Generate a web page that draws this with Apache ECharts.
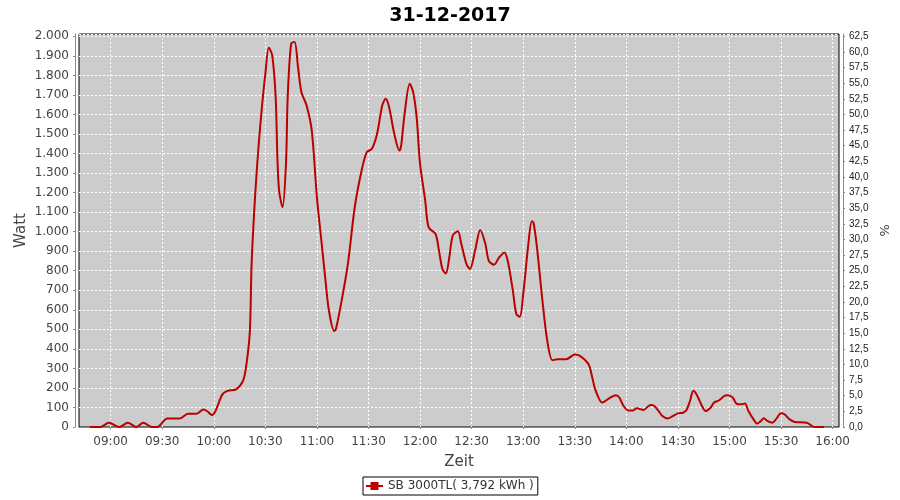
<!DOCTYPE html>
<html><head><meta charset="utf-8">
<script src="https://cdn.jsdelivr.net/npm/echarts@6/dist/echarts.min.js"></script>
<style>html,body{margin:0;padding:0;background:#fff}#c{width:900px;height:500px}</style>
</head><body><div id="c"></div>
<script>
const chartTitle = '31-12-2017';
const seriesName = 'SB 3000TL( 3,792 kWh )';
const times = ['08:48','08:54','08:59','09:05','09:10','09:15','09:19','09:24','09:27','09:33','09:40','09:45','09:50','09:54','09:56','09:59','10:01','10:05','10:08','10:13','10:17','10:19','10:21','10:22','10:24','10:26','10:28','10:30','10:32','10:34','10:36','10:37','10:38','10:40','10:42','10:43','10:45','10:47','10:49','10:51','10:54','10:57','11:00','11:03','11:05','11:07','11:10','11:11','11:14','11:18','11:22','11:26','11:29','11:32','11:35','11:38','11:40','11:42','11:45','11:48','11:49','11:51','11:54','11:56','11:58','12:00','12:03','12:05','12:09','12:11','12:13','12:15','12:17','12:19','12:22','12:24','12:27','12:29','12:32','12:35','12:38','12:40','12:43','12:46','12:49','12:51','12:54','12:56','12:58','13:00','13:03','13:05','13:06','13:08','13:11','13:14','13:17','13:20','13:25','13:30','13:33','13:38','13:40','13:42','13:46','13:50','13:54','13:56','13:58','14:01','14:04','14:06','14:10','14:14','14:16','14:19','14:21','14:24','14:27','14:30','14:33','14:35','14:37','14:39','14:41','14:44','14:46','14:49','14:51','14:54','14:57','14:59','15:02','15:04','15:07','15:09','15:11','15:14','15:16','15:18','15:20','15:22','15:25','15:27','15:30','15:32','15:35','15:38','15:45','15:48','15:50','15:55'];
const watts = [0,0,22,0,22,0,22,0,0,43,43,68,68,90,82,61,82,167,185,193,236,321,492,834,1176,1432,1637,1808,1942,1903,1689,1381,1210,1125,1347,1689,1963,1971,1843,1714,1646,1518,1176,920,749,595,492,500,629,834,1125,1313,1407,1424,1501,1646,1680,1637,1501,1415,1440,1603,1757,1714,1586,1347,1159,1022,988,903,809,786,868,979,1002,937,834,809,903,1009,937,851,831,868,894,851,697,578,564,680,937,1053,1046,920,663,441,342,347,347,371,364,321,260,190,125,147,163,150,113,85,85,96,87,113,110,79,56,43,56,70,73,87,133,185,164,108,82,99,125,137,159,162,150,120,116,120,82,39,17,28,45,31,22,39,70,65,39,26,22,5,0,0];
const xTickLabels = ['09:00','09:30','10:00','10:30','11:00','11:30','12:00','12:30','13:00','13:30','14:00','14:30','15:00','15:30','16:00'];
const xRange = ['08:41.6','16:03.7'];
const wattMax = 2012;
const wattStep = 100;
const pctPerWatt = 100 / 3200;
const pctStep = 2.5;

function toMin(s) {
  const p = s.split(':');
  return parseInt(p[0], 10) * 60 + parseFloat(p[1]);
}
function minLabel(v) {
  const h = Math.floor(v / 60), m = Math.round(v - h * 60);
  return String(h).padStart(2, '0') + ':' + String(m).padStart(2, '0');
}
function wattLabel(v) {
  if (v >= 1000) return Math.floor(v / 1000) + '.' + String(v % 1000).padStart(3, '0');
  return String(v);
}
const data = times.map((t, i) => [toMin(t), watts[i]]);
const xTicks = xTickLabels.map(toMin);
const fontFam = 'DejaVu Sans';

const chart = echarts.init(document.getElementById('c'), null, { renderer: 'canvas' });
chart.setOption({
  animation: false,
  backgroundColor: '#ffffff',
  title: {
    text: chartTitle, left: 'center', top: 2,
    textStyle: { fontFamily: fontFam, fontWeight: 'bold', fontSize: 19, color: '#000' }
  },
  legend: {
    left: 363, top: 477, padding: [3, 4, 3, 2],
    borderColor: '#000', borderWidth: 1, borderRadius: 0,
    itemWidth: 17, itemHeight: 10,
    textStyle: { fontFamily: fontFam, fontSize: 12, color: '#333' },
    data: [seriesName]
  },
  grid: {
    left: 79, right: 61, top: 34, bottom: 73,
    show: true, backgroundColor: '#CCCCCC', borderColor: '#000', borderWidth: 1
  },
  xAxis: {
    type: 'value', min: toMin(xRange[0]), max: toMin(xRange[1]),
    offset: 4,
    name: 'Zeit', nameLocation: 'middle', nameGap: 24, nameMoveOverlap: false,
    nameTextStyle: { fontFamily: fontFam, fontSize: 15, color: '#444' },
    axisLine: { show: true, lineStyle: { color: '#888', width: 1 } },
    axisTick: { show: true, length: 2, customValues: xTicks, lineStyle: { color: '#888' } },
    axisLabel: { customValues: xTicks, formatter: minLabel, margin: 5,
      fontFamily: fontFam, fontSize: 12, color: '#444' },
    splitLine: { show: true, lineStyle: { color: '#fff', type: [2, 2], width: 1 } }
  },
  yAxis: [{
    type: 'value', min: 0, max: wattMax, interval: wattStep, position: 'left', offset: 4,
    name: 'Watt', nameLocation: 'middle', nameGap: 46, nameMoveOverlap: false,
    nameTextStyle: { fontFamily: fontFam, fontSize: 15, color: '#444' },
    axisLine: { show: true, lineStyle: { color: '#888', width: 1 } },
    axisTick: { show: true, length: 2, lineStyle: { color: '#888' } },
    axisLabel: { formatter: wattLabel, showMaxLabel: false, margin: 6,
      fontFamily: fontFam, fontSize: 12, color: '#444' },
    splitLine: { show: true, lineStyle: { color: '#fff', type: [2, 2], width: 1 } }
  }, {
    type: 'value', min: 0, max: wattMax * pctPerWatt, interval: pctStep, position: 'right', offset: 4,
    name: '%', nameLocation: 'middle', nameGap: 34, nameRotate: -90, nameMoveOverlap: false,
    nameTextStyle: { fontFamily: fontFam, fontSize: 13, color: '#444' },
    axisLine: { show: true, lineStyle: { color: '#888', width: 1 } },
    axisTick: { show: true, length: 2, lineStyle: { color: '#888' } },
    axisLabel: { formatter: v => v.toFixed(1).replace('.', ','), showMaxLabel: false, margin: 6,
      fontFamily: 'Liberation Sans', fontSize: 10, color: '#222' },
    splitLine: { show: false }
  }],
  series: [{
    name: seriesName, type: 'line', yAxisIndex: 0, data: data,
    smooth: 0.3, showSymbol: false, symbol: 'rect', symbolSize: [4, 2],
    lineStyle: { color: '#BB0000', width: 2 }, itemStyle: { color: '#BB0000' },
    clip: true
  }]
});
</script>
</body></html>
